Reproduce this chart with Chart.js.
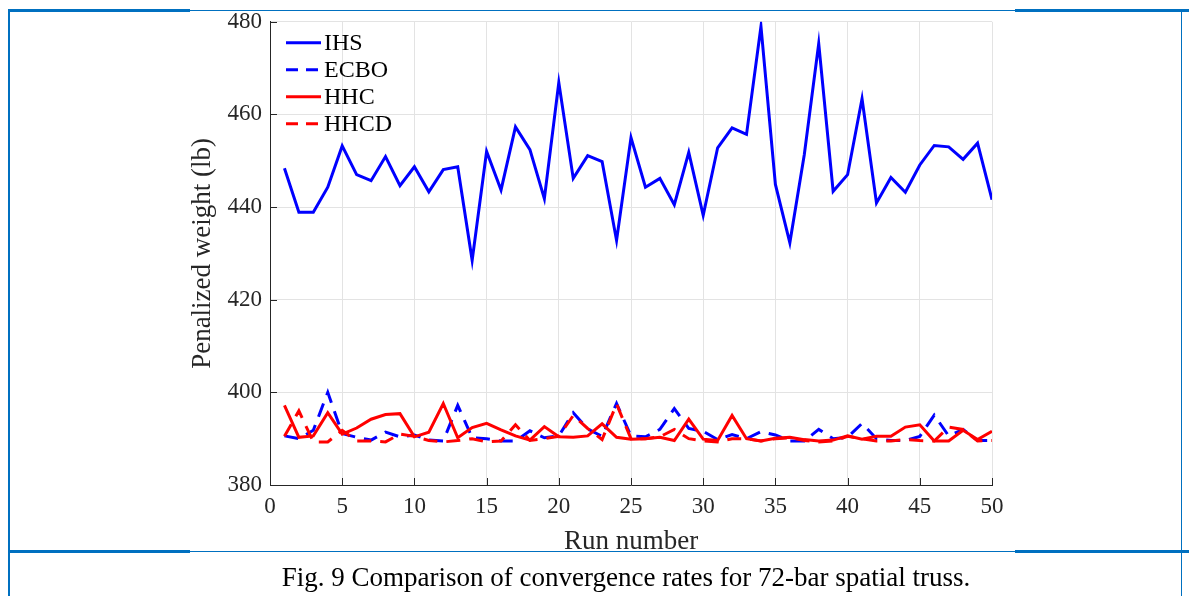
<!DOCTYPE html>
<html>
<head>
<meta charset="utf-8">
<script src="https://cdn.jsdelivr.net/npm/chart.js@4.4.1/dist/chart.umd.min.js"></script>
<style>
  html, body { margin: 0; padding: 0; background: #fff; }
  #wrap { position: relative; width: 1189px; height: 596px; overflow: hidden; }
  #chart { position: absolute; left: 0; top: 0; }
  .frame { position: absolute; background: #0070c0; }
  #caption {
    position: absolute; left: 26px; width: 1200px; top: 562px; line-height: 30px;
    text-align: center; font-family: "Liberation Serif", serif; font-size: 27px; color: #000;
  }
</style>
</head>
<body>
<div id="wrap">
  <canvas id="chart" width="1189" height="596"></canvas>
  <div class="frame" style="left:8px; top:10px; width:1181px; height:1px;"></div>
  <div class="frame" style="left:8px; top:9px; width:182px; height:3px;"></div>
  <div class="frame" style="left:1015px; top:9px; width:174px; height:3px;"></div>
  <div class="frame" style="left:8px; top:10px; width:2px; height:586px;"></div>
  <div class="frame" style="left:1181px; top:10px; width:1px; height:586px;"></div>
  <div class="frame" style="left:8px; top:551px; width:1181px; height:1px;"></div>
  <div class="frame" style="left:8px; top:550px; width:182px; height:3px;"></div>
  <div class="frame" style="left:1015px; top:550px; width:174px; height:3px;"></div>
  <div id="caption">Fig. 9 Comparison of convergence rates for 72-bar spatial truss.</div>
</div>
<script>
// run numbers 1..50
const runs = [1,2,3,4,5,6,7,8,9,10,11,12,13,14,15,16,17,18,19,20,21,22,23,24,25,
  26,27,28,29,30,31,32,33,34,35,36,37,38,39,40,41,42,43,44,45,46,47,48,49,50];

const ihs = [448.4,438.9,438.9,444.3,453.2,447.0,445.7,450.9,444.6,448.7,
  443.3,448.1,448.7,428.5,452.0,443.7,457.3,452.4,441.8,466.9,
  446.2,451.1,449.8,432.8,455.0,444.3,446.2,440.5,451.8,438.2,
  452.8,457.1,455.7,479.0,444.9,432.3,451.3,475.3,443.4,447.0,
  463.4,440.9,446.4,443.2,449.1,453.3,453.0,450.3,453.8,441.6];

const ecbo = [390.6,390.0,391.8,400.0,391.1,390.3,389.7,391.4,390.4,390.8,
  389.7,389.5,397.2,390.2,390.0,389.5,389.5,391.7,390.2,390.6,
  395.6,392.1,390.5,397.6,390.6,390.4,392.0,396.5,392.2,391.6,
  389.8,390.9,390.0,391.5,390.8,389.5,389.5,392.0,390.0,390.3,
  393.3,390.0,389.6,389.6,390.5,395.1,390.6,392.0,389.6,389.6];

const hhc = [397.2,390.3,390.6,395.6,391.0,392.3,394.2,395.2,395.4,390.4,
  391.4,397.6,390.2,392.4,393.3,391.9,390.6,389.7,392.6,390.4,
  390.3,390.6,393.2,390.3,389.9,390.0,390.3,389.6,394.2,389.9,
  389.6,395.0,390.0,389.5,390.1,390.3,389.8,389.5,389.7,390.6,
  389.9,390.5,390.5,392.5,393.0,389.5,389.5,391.8,389.8,391.6];

const hhcd = [390.5,396.0,389.3,389.3,391.8,389.5,389.5,389.3,391.0,390.5,
  389.6,389.3,389.6,390.0,389.3,389.5,393.0,389.6,390.0,390.5,
  395.0,392.2,389.8,397.5,390.0,390.0,390.4,392.0,390.0,389.5,
  389.3,390.0,390.0,389.5,390.0,390.2,389.6,389.3,389.5,390.5,
  390.0,389.5,389.5,389.8,389.6,389.5,392.5,392.0,389.5,389.6];

const seriesNames = ["IHS", "ECBO", "HHC", "HHCD"];
const xTicks = [0,5,10,15,20,25,30,35,40,45,50];
const yTicks = [380,400,420,440,460,480];

const serif = "'Liberation Serif', 'Times New Roman', serif";
const axisColor = "#262626";

function pts(vals) {
  return vals.map((v, i) => ({ x: runs[i], y: v }));
}

function makeSet(label, vals, color, dashed, order) {
  return {
    label: label,
    data: pts(vals),
    borderColor: color,
    backgroundColor: color,
    borderWidth: 3,
    borderDash: dashed ? [14, 9] : [],
    pointRadius: 0,
    tension: 0,
    order: order
  };
}

// MATLAB-style inward tick marks
const innerTicks = {
  id: "innerTicks",
  afterDatasetsDraw(chart) {
    const ctx = chart.ctx;
    const a = chart.chartArea;
    const xs = chart.scales.x, ys = chart.scales.y;
    ctx.save();
    ctx.strokeStyle = axisColor;
    ctx.lineWidth = 1;
    ctx.beginPath();
    xTicks.forEach(t => {
      const px = Math.round(xs.getPixelForValue(t)) + 0.5;
      ctx.moveTo(px, a.bottom);
      ctx.lineTo(px, a.bottom - 7);
    });
    yTicks.forEach(t => {
      const py = Math.round(ys.getPixelForValue(t)) + 0.5;
      ctx.moveTo(a.left, py);
      ctx.lineTo(a.left + 7, py);
    });
    ctx.stroke();
    ctx.restore();
  }
};

// legend inside the plot, upper left, no box
const innerLegend = {
  id: "innerLegend",
  afterDraw(chart) {
    const ctx = chart.ctx;
    const a = chart.chartArea;
    ctx.save();
    ctx.font = "24px " + serif;
    ctx.textBaseline = "middle";
    chart.data.datasets.forEach((ds, i) => {
      const y = a.top + 21 + i * 27;
      ctx.strokeStyle = ds.borderColor;
      ctx.lineWidth = 3;
      ctx.setLineDash(ds.borderDash.length ? [12, 8] : []);
      ctx.beginPath();
      ctx.moveTo(a.left + 16, y);
      ctx.lineTo(a.left + 51, y);
      ctx.stroke();
      ctx.setLineDash([]);
      ctx.fillStyle = "#000";
      ctx.fillText(ds.label, a.left + 54, y + 1);
    });
    ctx.restore();
  }
};

new Chart(document.getElementById("chart"), {
  type: "line",
  data: {
    datasets: [
      makeSet(seriesNames[0], ihs, "#0000ff", false, 4),
      makeSet(seriesNames[1], ecbo, "#0000ff", true, 3),
      makeSet(seriesNames[2], hhc, "#ff0000", false, 2),
      makeSet(seriesNames[3], hhcd, "#ff0000", true, 1)
    ]
  },
  options: {
    responsive: false,
    animation: false,
    layout: { padding: { left: 183, right: 197, top: 20, bottom: 38 } },
    plugins: { legend: { display: false }, tooltip: { enabled: false } },
    scales: {
      x: {
        type: "linear",
        min: 0, max: 50,
        afterBuildTicks: s => { s.ticks = xTicks.map(v => ({ value: v })); },
        afterFit: s => { s.height = 73; },
        grid: { color: "#e3e3e3", drawTicks: false },
        border: { display: true, color: axisColor, width: 1 },
        ticks: { color: axisColor, font: { family: serif, size: 23 }, padding: 8, maxRotation: 0 },
        title: { display: true, text: "Run number", color: axisColor,
          font: { family: serif, size: 27 }, padding: { top: 0, bottom: 0 } }
      },
      y: {
        min: 380, max: 480,
        afterBuildTicks: s => { s.ticks = yTicks.map(v => ({ value: v })); },
        afterFit: s => { s.width = 87; },
        grid: { color: "#e3e3e3", drawTicks: false },
        border: { display: true, color: axisColor, width: 1 },
        ticks: { color: axisColor, font: { family: serif, size: 23 }, padding: 8 },
        title: { display: true, text: "Penalized weight (lb)", color: axisColor,
          font: { family: serif, size: 27 }, padding: { top: 4, bottom: 0 } }
      }
    }
  },
  plugins: [innerTicks, innerLegend]
});
</script>
</body>
</html>
